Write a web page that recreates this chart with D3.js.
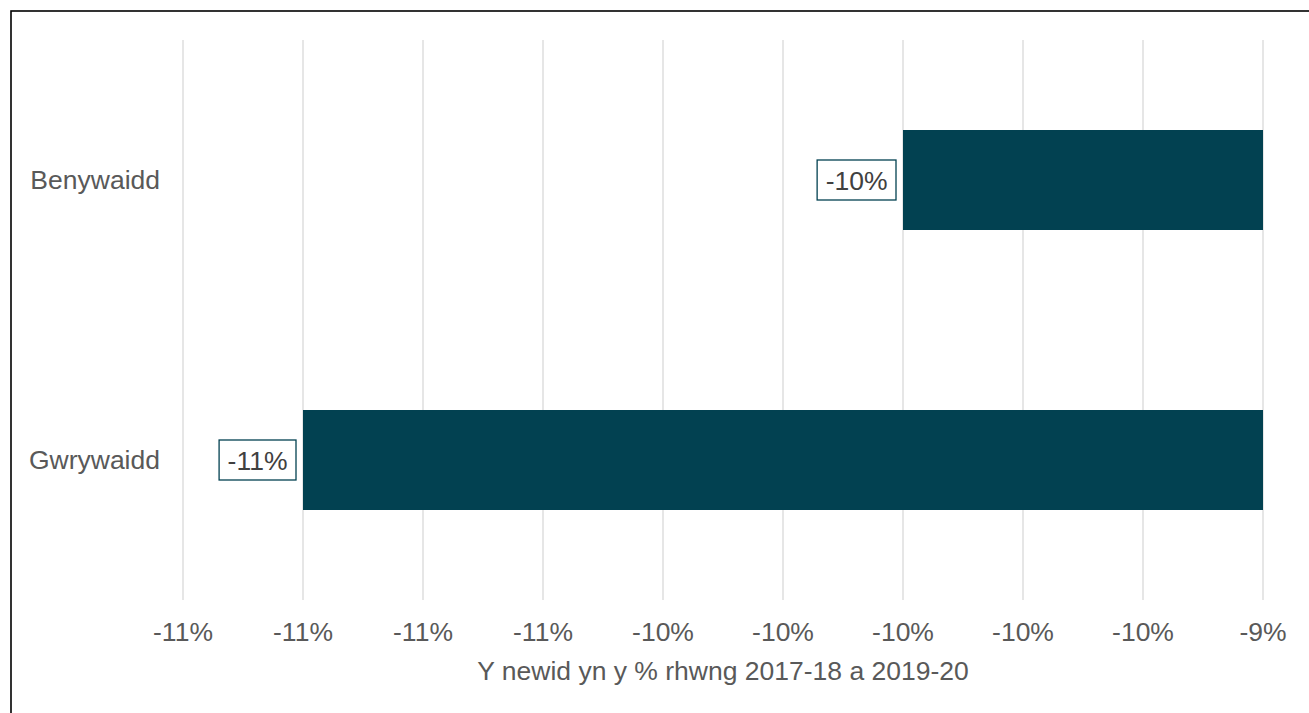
<!DOCTYPE html>
<html>
<head>
<meta charset="utf-8">
<script src="https://cdn.jsdelivr.net/npm/d3@7"></script>
<style>
  html, body { margin: 0; padding: 0; background: #fff; }
  svg { display: block; font-family: "Liberation Sans", Arial, sans-serif; }
</style>
</head>
<body>
<svg id="chart" width="1309" height="713"></svg>
<script>
// ---- Data ----
const categories = ["Benywaidd", "Gwrywaidd"];
const values = [-10.0, -11.0];              // % change
const tickValues = [-11.2, -11.0, -10.8, -10.6, -10.4, -10.2, -10.0, -9.8, -9.6, -9.4];
const axisTitle = "Y newid yn y % rhwng 2017-18 a 2019-20";

// ---- Layout ----
const W = 1309, H = 713;
const plot = { left: 183, right: 1263, top: 40, bottom: 600 };
const barColor = "#024151";
const gridColor = "#d9d9d9";
const tickTextColor = "#595959";
const labelTextColor = "#404040";
const fontSize = 26.5;

const svg = d3.select("#chart");

// border
svg.append("rect")
  .attr("x", 11).attr("y", 11)
  .attr("width", W + 10).attr("height", H + 10)
  .attr("fill", "none").attr("stroke", "#000").attr("stroke-width", 1.6);

const x = d3.scaleLinear()
  .domain(d3.extent(tickValues))
  .range([plot.left, plot.right]);

const p = 0.6429;
const y = d3.scaleBand()
  .domain(categories)
  .range([plot.top, plot.bottom])
  .paddingInner(p)
  .paddingOuter(p / 2);

const fmt = d => Math.round(d) + "%";

// gridlines
svg.append("g").selectAll("line")
  .data(tickValues)
  .join("line")
  .attr("x1", d => x(d)).attr("x2", d => x(d))
  .attr("y1", plot.top).attr("y2", plot.bottom)
  .attr("stroke", gridColor).attr("stroke-width", 1.3);

// tick labels
svg.append("g").selectAll("text")
  .data(tickValues)
  .join("text")
  .attr("x", d => x(d))
  .attr("y", plot.bottom + 41)
  .attr("text-anchor", "middle")
  .attr("font-size", fontSize)
  .attr("fill", tickTextColor)
  .text(fmt);

// axis title
svg.append("text")
  .attr("x", (plot.left + plot.right) / 2)
  .attr("y", 680)
  .attr("text-anchor", "middle")
  .attr("font-size", fontSize)
  .attr("fill", tickTextColor)
  .text(axisTitle);

// category labels
svg.append("g").selectAll("text")
  .data(categories)
  .join("text")
  .attr("x", 160)
  .attr("y", d => y(d) + y.bandwidth() / 2 + 8.5)
  .attr("text-anchor", "end")
  .attr("font-size", fontSize)
  .attr("fill", tickTextColor)
  .text(d => d);

// bars (start from the axis crossing, clamped to domain max since 0 is out of range)
const base = Math.min(0, x.domain()[1]);
const data = categories.map((c, i) => ({ c, v: values[i] }));

svg.append("g").selectAll("rect")
  .data(data)
  .join("rect")
  .attr("x", d => x(d.v))
  .attr("width", d => x(base) - x(d.v))
  .attr("y", d => y(d.c))
  .attr("height", y.bandwidth())
  .attr("fill", barColor);

// data labels with boxes
const lg = svg.append("g").selectAll("g")
  .data(data)
  .join("g");

lg.each(function(d) {
  const g = d3.select(this);
  const cy = y(d.c) + y.bandwidth() / 2;
  const rect = g.append("rect");
  const t = g.append("text")
    .attr("font-size", fontSize)
    .attr("fill", labelTextColor)
    .attr("text-anchor", "middle")
    .text(fmt(d.v));
  const tw = t.node().getComputedTextLength();
  const bw = tw + 17, bh = 40;
  const right = x(d.v) - 7;
  rect.attr("x", right - bw).attr("y", cy - bh / 2)
    .attr("width", bw).attr("height", bh)
    .attr("fill", "#fff").attr("stroke", barColor).attr("stroke-width", 1.3);
  t.attr("x", right - bw / 2).attr("y", cy + 9.5);
});
</script>
</body>
</html>
